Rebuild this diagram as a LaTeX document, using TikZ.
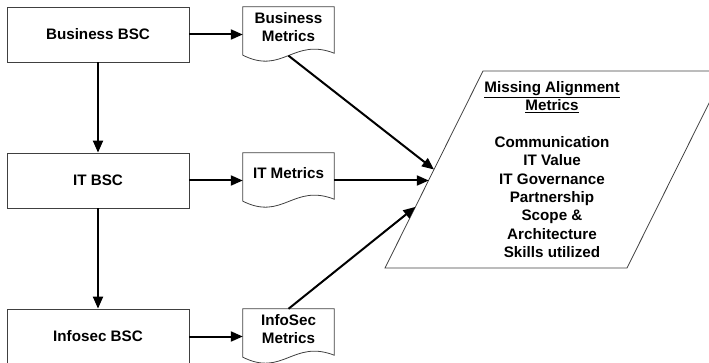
\documentclass[tikz,border=0pt]{standalone}
\usepackage{fontspec}
\setmainfont{Liberation Sans}
\usetikzlibrary{arrows.meta,calc}
\begin{document}
\begin{tikzpicture}[x=1pt,y=-1pt,
  every node/.style={font=\fontsize{15.2}{18.4}\selectfont\bfseries},
  bscbox/.style={draw=black!75,line width=0.8pt,minimum width=182pt,minimum height=55pt,inner sep=0pt},
  docbox/.style={minimum width=91pt,minimum height=55pt,inner sep=0pt},
  doctext/.style={align=center,inner sep=0pt,yshift=7.5pt},
  docline/.style={draw=black!75,line width=0.8pt},
  flow/.style={line width=2pt,-{Triangle[length=12pt,width=10pt]}}
]
\useasboundingbox (0,0) rectangle (709,363);
\newcommand\docoutline[1]{%
  \draw[docline] (#1.north west) -- (#1.north east) -- ([yshift=9pt]#1.south east)
    .. controls ([xshift=-41pt,yshift=25pt]#1.south east) and ([xshift=40pt,yshift=-13pt]#1.south west)
    .. ([yshift=7pt]#1.south west) -- cycle;}
% BSC boxes
\node[bscbox] (bbsc) at (98,34.5) {Business BSC};
\node[bscbox] (itbsc) at (98,180.5) {IT BSC};
\node[bscbox] (ibsc) at (98,336.5) {Infosec BSC};
% documents
\node[docbox,label={[doctext]center:{Business\\Metrics}}] (bm) at (288.5,34.5) {};
\node[docbox,label={[doctext]center:{IT Metrics}}] (itm) at (288.5,180.5) {};
\node[docbox,label={[doctext]center:{InfoSec\\Metrics}}] (ism) at (288.5,336.5) {};
\docoutline{bm}
\docoutline{itm}
\docoutline{ism}
% parallelogram
\coordinate (ptl) at (483,71);
\coordinate (ptr) at (725,71);
\coordinate (pbr) at (627,268);
\coordinate (pbl) at (385,268);
\draw[docline] (ptl) -- (ptr) -- (pbr) -- (pbl) -- cycle;
\node[align=center,inner sep=0pt] (mam) at (552,169.5)
  {\underline{Missing Alignment}\\\underline{Metrics}\\[18.4pt]Communication\\IT Value\\IT Governance\\Partnership\\Scope \&\\Architecture\\Skills utilized};
\coordinate (p1) at ($(pbl)!0.50!(ptl)$);
\coordinate (p2) at ($(pbl)!0.447!(ptl)$);
\coordinate (p3) at ($(pbl)!0.31!(ptl)$);
% connectors
\draw[flow] (bbsc.south) -- (itbsc.north);
\draw[flow] (itbsc.south) -- (ibsc.north);
\draw[flow] (bbsc.east) -- (bm.west);
\draw[flow] (itbsc.east) -- (itm.west);
\draw[flow] (ibsc.east) -- (ism.west);
\draw[flow] ([yshift=6.5pt]bm.south) -- (p1);
\draw[flow] (itm.east) -- (itm.east -| p2);
\draw[flow] (ism.north) -- (p3);
\end{tikzpicture}
\end{document}
